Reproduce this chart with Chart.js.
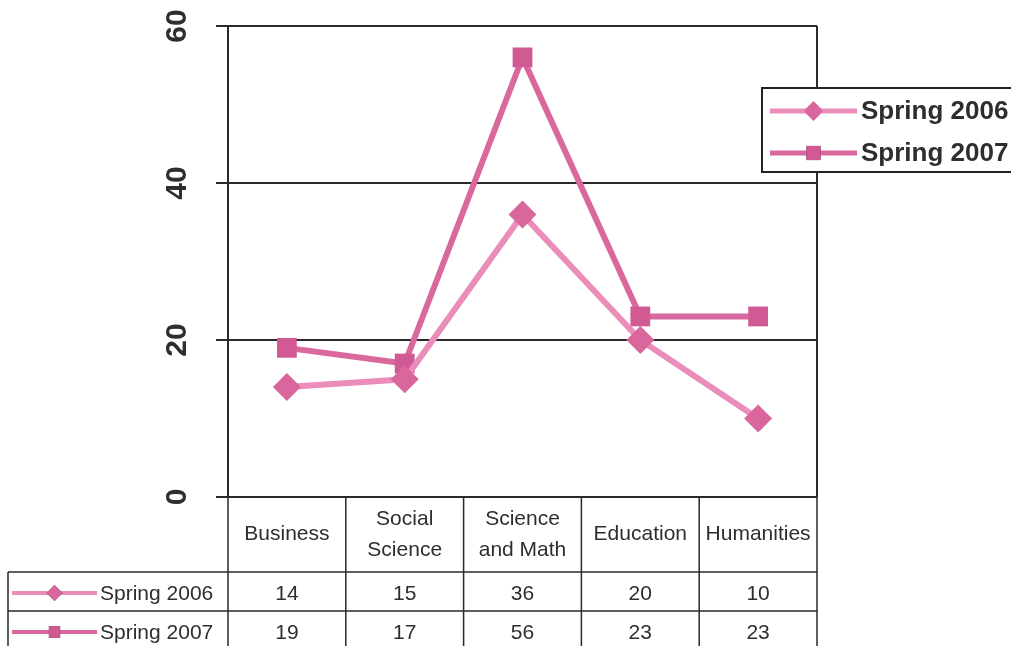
<!DOCTYPE html>
<html>
<head>
<meta charset="utf-8">
<script src="https://cdn.jsdelivr.net/npm/chart.js@4/dist/chart.umd.min.js"></script>
<style>
  html, body { margin: 0; padding: 0; background: #fff; }
  #wrap { width: 1011px; height: 646px; position: relative; }
</style>
</head>
<body>
<div id="wrap"><canvas id="chart"></canvas></div>
<script>
// ── Data ──
const categories = [['Business'], ['Social', 'Science'], ['Science', 'and Math'], ['Education'], ['Humanities']];
const seriesNames = ['Spring 2006', 'Spring 2007'];
const spring2006 = [14, 15, 36, 20, 10];
const spring2007 = [19, 17, 56, 23, 23];
const yTicks = [0, 20, 40, 60];

// ── Styles ──
const STYLES = [
  { line: '#ea8dba', fill: '#d9669d', point: 'rectRot', radius: 14 },
  { line: '#d9689f', fill: '#d25a94', point: 'rect', radius: 14 },
];
const INK = '#2e2e2e';
const FONT = '"Liberation Sans", Arial, sans-serif';

function drawMarker(ctx, i, x, y, radius) {
  const s = STYLES[i];
  Chart.helpers.drawPoint(ctx, {
    pointStyle: s.point, radius, rotation: 0, borderWidth: 0
  }, x, y);
  ctx.fillStyle = s.fill;
  ctx.fill();
}

function drawSample(ctx, i, x0, x1, y, lw, radius) {
  ctx.save();
  ctx.strokeStyle = STYLES[i].line;
  ctx.lineWidth = lw;
  ctx.beginPath();
  ctx.moveTo(x0, y);
  ctx.lineTo(x1, y);
  ctx.stroke();
  ctx.beginPath();
  drawMarker(ctx, i, (x0 + x1) / 2, y, radius);
  ctx.restore();
}

// ── Frame, y labels, data table, legend ──
const framePlugin = {
  id: 'frame',
  afterDraw(chart) {
    const { ctx, chartArea: a, scales: { x, y } } = chart;
    ctx.save();
    ctx.strokeStyle = '#2a2a2a';
    ctx.lineWidth = 2;

    // plot frame sides + outer ticks
    ctx.beginPath();
    ctx.moveTo(a.left, a.top); ctx.lineTo(a.left, a.bottom);
    ctx.moveTo(a.right, a.top); ctx.lineTo(a.right, a.bottom);
    yTicks.forEach(v => {
      const py = y.getPixelForValue(v);
      ctx.moveTo(a.left - 12, py); ctx.lineTo(a.left, py);
    });
    ctx.stroke();

    // rotated y tick labels
    ctx.fillStyle = INK;
    ctx.font = `bold 30px ${FONT}`;
    ctx.textAlign = 'center';
    ctx.textBaseline = 'middle';
    yTicks.forEach(v => {
      ctx.save();
      ctx.translate(178, y.getPixelForValue(v));
      ctx.rotate(-Math.PI / 2);
      ctx.fillText(String(v), 0, 0);
      ctx.restore();
    });

    // data table
    ctx.lineWidth = 1.5;
    const colW = (a.right - a.left) / categories.length;
    const rowTop = a.bottom, row1 = 572, row2 = 611, rowEnd = 646;
    ctx.beginPath();
    for (let i = 0; i <= categories.length; i++) {
      const px = a.left + i * colW;
      ctx.moveTo(px, rowTop); ctx.lineTo(px, rowEnd);
    }
    ctx.moveTo(8, row1); ctx.lineTo(a.right, row1);
    ctx.moveTo(8, row2); ctx.lineTo(a.right, row2);
    ctx.moveTo(8, row1); ctx.lineTo(8, rowEnd);
    ctx.stroke();

    ctx.font = `21px ${FONT}`;
    ctx.fillStyle = INK;
    categories.forEach((lines, i) => {
      const cx = x.getPixelForValue(i);
      const mid = (rowTop + row1) / 2;
      lines.forEach((t, k) => {
        ctx.fillText(t, cx, mid + (k - (lines.length - 1) / 2) * 31);
      });
      ctx.fillText(String(spring2006[i]), cx, 594);
      ctx.fillText(String(spring2007[i]), cx, 633);
    });

    // table row keys
    ctx.textAlign = 'left';
    [594, 633].forEach((ry, i) => {
      drawSample(ctx, i, 12, 97, ry - 1, 4, 8);
      ctx.fillStyle = INK;
      ctx.fillText(seriesNames[i], 100, ry);
    });

    // legend box
    ctx.fillStyle = '#fff';
    ctx.fillRect(762, 88, 260, 84);
    ctx.strokeStyle = '#222';
    ctx.lineWidth = 2;
    ctx.strokeRect(762, 88, 260, 84);
    ctx.font = `bold 26px ${FONT}`;
    [111, 153].forEach((ly, i) => {
      drawSample(ctx, i, 770, 857, ly, 5, 10);
      ctx.fillStyle = INK;
      ctx.fillText(seriesNames[i], 861, ly + 1);
    });
    ctx.restore();
  }
};

const datasets = [spring2006, spring2007].map((vals, i) => ({
  label: seriesNames[i],
  data: vals,
  borderColor: STYLES[i].line,
  backgroundColor: STYLES[i].fill,
  borderWidth: 6,
  pointStyle: STYLES[i].point,
  pointRadius: STYLES[i].radius,
  pointBorderWidth: 0,
  pointBackgroundColor: STYLES[i].fill,
  tension: 0,
}));

new Chart(document.getElementById('chart'), {
  type: 'line',
  data: { labels: categories.map(c => c.join(' ')), datasets },
  options: {
    responsive: true,
    maintainAspectRatio: false,
    animation: false,
    layout: { padding: { left: 228, top: 26, right: 194, bottom: 149 } },
    plugins: { legend: { display: false }, tooltip: { enabled: false } },
    scales: {
      x: { display: false, offset: true },
      y: {
        min: 0, max: 60,
        afterBuildTicks: s => { s.ticks = yTicks.map(v => ({ value: v })); },
        ticks: { display: false },
        border: { display: false },
        grid: { color: '#2a2a2a', lineWidth: 2, drawTicks: false }
      }
    }
  },
  plugins: [framePlugin]
});
</script>
</body>
</html>
